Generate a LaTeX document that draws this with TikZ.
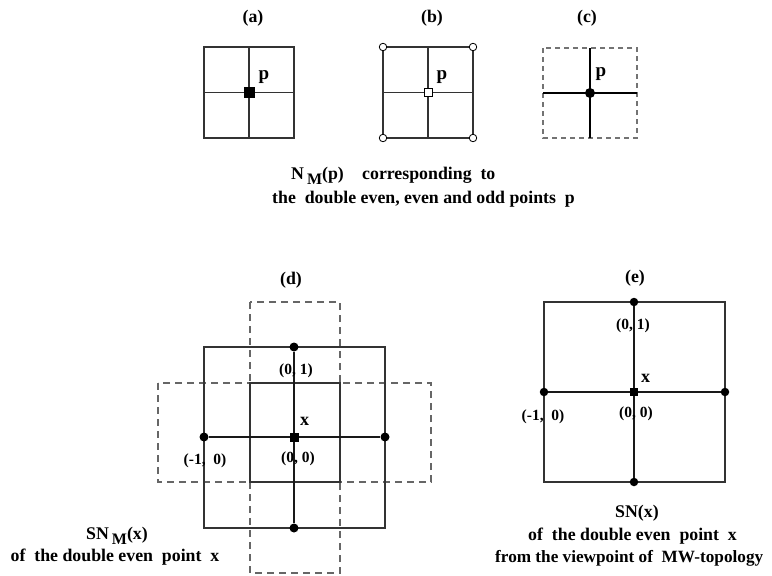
\documentclass[tikz,border=0pt]{standalone}
\usepackage{fontspec}
\setmainfont{Liberation Serif}
\begin{document}
\begin{tikzpicture}[x=1pt,y=-1pt,
  lbl/.style={font=\fontsize{17.8}{20}\selectfont\bfseries, inner sep=0pt},
  plbl/.style={font=\fontsize{19}{20}\selectfont\bfseries, inner sep=0pt},
  xlbl/.style={font=\fontsize{18}{20}\selectfont\bfseries, inner sep=0pt},
  crd/.style={font=\fontsize{15.5}{18}\selectfont\bfseries, inner sep=0pt},
  captxt/.style={font=\fontsize{17.8}{22}\selectfont\bfseries, inner sep=0pt, anchor=base west},
  grid/.style={draw=black!80, line width=1.1pt},
  axisline/.style={draw=black!90, line width=1.3pt},
  thickaxis/.style={draw=black, line width=2.4pt},
  dashbox/.style={draw=black!60, line width=1.1pt, dash pattern=on 7pt off 5pt},
  cdash/.style={draw=black!55, line width=1.1pt, dash pattern=on 5pt off 4pt},
  dot/.style={circle, fill=black, inner sep=0pt, minimum size=9pt},
  sqdot/.style={rectangle, fill=black, inner sep=0pt, minimum size=9pt},
  osq/.style={rectangle, draw=black, fill=white, line width=0.8pt, inner sep=0pt, minimum size=8pt},
  ocirc/.style={circle, draw=black, fill=white, line width=0.8pt, inner sep=0pt, minimum size=7.5pt}]
\useasboundingbox (0,0) rectangle (772,576);

% ---------------- (a)
\node[lbl] (la) at (253,18) {(a)};
\coordinate (a1) at (204,47); \coordinate (a2) at (294,138);
\coordinate (aT) at (249,47); \coordinate (aB) at (249,138);
\coordinate (aL) at (204,92.5); \coordinate (aR) at (294,92.5);
\draw[grid] (a1) rectangle (a2);
\draw[grid] (aT) -- (aB);
\draw[grid] (aL) -- (aR);
\node[sqdot, minimum size=11pt] (pa) at (249,92.5) {};
\node[plbl] (pal) at (264,77) {p};

% ---------------- (b)
\node[lbl] (lb) at (432,18) {(b)};
\coordinate (b1) at (383,47); \coordinate (b2) at (473,138);
\coordinate (bT) at (428,47); \coordinate (bB) at (428,138);
\coordinate (bL) at (383,92.5); \coordinate (bR) at (473,92.5);
\draw[grid] (b1) rectangle (b2);
\draw[grid] (bT) -- (bB);
\draw[grid] (bL) -- (bR);
\node[osq] (pb) at (428,92.5) {};
\node[ocirc] (bc1) at (383,47) {};
\node[ocirc] (bc2) at (473,47) {};
\node[ocirc] (bc3) at (383,138) {};
\node[ocirc] (bc4) at (473,138) {};
\node[plbl] (pbl) at (442,77) {p};

% ---------------- (c)
\node[lbl] (lc) at (587,18) {(c)};
\coordinate (c1) at (543,48); \coordinate (c2) at (637,138);
\coordinate (cT) at (590,48); \coordinate (cB) at (590,138);
\coordinate (cL) at (543,93); \coordinate (cR) at (637,93);
\draw[cdash] (c1) rectangle (c2);
\draw[thickaxis] (cT) -- (cB);
\draw[thickaxis] (cL) -- (cR);
\node[dot, minimum size=10pt] (pc) at (590,93) {};
\node[plbl] (pcl) at (601,74) {p};

% caption (a)-(c)
\node[captxt] (nm) at (291,179) {N\,\raisebox{-5pt}{\fontsize{16}{16}\selectfont M}(p)};
\node[captxt] (corr) at (362,179) {corresponding\ \ to};
\node[captxt] (nm2) at (272,203) {the\ \ double even, even and odd points\ \ p};

% ---------------- (d)
\node[lbl] (ld) at (291,280) {(d)};
\coordinate (dh1) at (158,383); \coordinate (dh2) at (431,482);
\coordinate (dv1) at (250,302); \coordinate (dv2) at (340,573);
\coordinate (do1) at (204,347); \coordinate (do2) at (385,528);
\coordinate (di1) at (250,383); \coordinate (di2) at (340,482);
\draw[dashbox] (dh1) rectangle (dh2);
\draw[dashbox] (dv1) rectangle (dv2);
\draw[grid] (do1) rectangle (do2);
\draw[grid] (di1) rectangle (di2);
\node[dot] (dT) at (294,347) {};
\node[dot] (dB) at (294,528) {};
\node[dot] (dL) at (204,437) {};
\node[dot] (dR) at (385,437) {};
\draw[axisline] (dT) -- (dB);
\draw[axisline] (dL) -- (dR);
\node[sqdot] (dC) at (294,437) {};
\node[crd] (d01) at (296,371) {(0, 1)};
\node[xlbl] (dx) at (304.5,421) {x};
\node[crd] (dm10) at (205,461) {(-1,\ \ 0)};
\node[crd] (d00) at (298,459) {(0, 0)};

% caption (d)
\node[captxt, anchor=base] (sdm) at (117,539) {SN\,\raisebox{-5pt}{\fontsize{16}{16}\selectfont M}(x)};
\node[captxt, anchor=base] (sdm2) at (115,561) {of\ \ the double even\ \ point\ \ x};

% ---------------- (e)
\node[lbl] (le) at (635,278) {(e)};
\coordinate (e1) at (544,302); \coordinate (e2) at (725,482);
\draw[grid] (e1) rectangle (e2);
\node[dot, minimum size=8.5pt] (eT) at (634,302) {};
\node[dot, minimum size=8.5pt] (eB) at (634,482) {};
\node[dot, minimum size=8.5pt] (eL) at (544,392) {};
\node[dot, minimum size=8.5pt] (eR) at (725,392) {};
\draw[axisline] (eT) -- (eB);
\draw[axisline] (eL) -- (eR);
\node[sqdot, minimum size=8.5pt] (eC) at (634,392) {};
\node[crd] (e01) at (633,326) {(0, 1)};
\node[xlbl] (ex) at (645.5,378) {x};
\node[crd] (em10) at (543,417) {(-1,\ \ 0)};
\node[crd] (e00) at (636,414) {(0, 0)};

% caption (e)
\node[captxt] (sn) at (615,517) {SN(x)};
\node[captxt] (sn2) at (528,540) {of\ \ the double even\ \ point\ \ x};
\node[captxt, font=\fontsize{17.2}{22}\selectfont\bfseries] (sn3) at (495,562) {from the viewpoint of\ \ MW-topology};
\end{tikzpicture}
\end{document}
